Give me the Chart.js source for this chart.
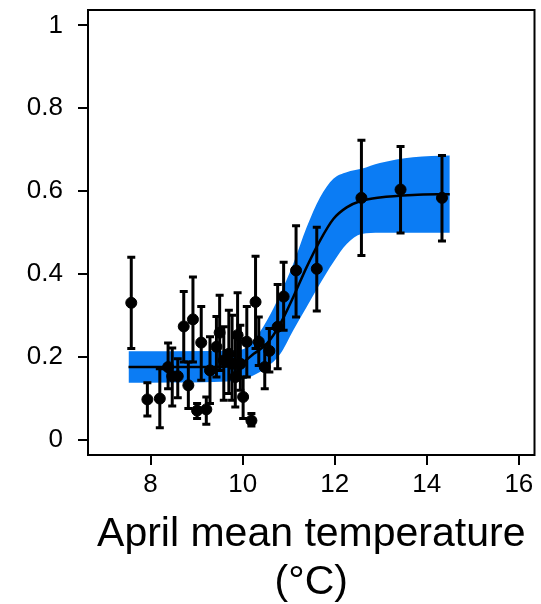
<!DOCTYPE html>
<html>
<head>
<meta charset="utf-8">
<title>April mean temperature</title>
<script src="https://cdn.jsdelivr.net/npm/chart.js@4.4.1/dist/chart.umd.min.js"></script>
<style>
  html, body { margin: 0; padding: 0; background: #fff; }
  #chart { display: block; }
</style>
</head>
<body>
<canvas id="chart" width="541" height="604"></canvas>
<script>
// observed points with their error bars
const temps   = [7.58, 7.93, 8.20, 8.38, 8.47, 8.59, 8.72, 8.82, 8.92, 9.01, 9.10, 9.21, 9.29, 9.43, 9.50, 9.59, 9.70, 9.77,
                 9.84, 9.89, 9.95, 10.01, 10.09, 10.19, 10.28, 10.35, 10.48, 10.58, 10.76, 10.89, 11.16, 11.61, 12.58, 13.43, 14.33];
const props   = [0.331, 0.098, 0.100, 0.176, 0.154, 0.154, 0.274, 0.132, 0.291, 0.071, 0.235, 0.074, 0.168, 0.225, 0.259, 0.192, 0.208, 0.184,
                 0.152, 0.253, 0.184, 0.104, 0.237, 0.047, 0.333, 0.237, 0.176, 0.215, 0.273, 0.346, 0.409, 0.413, 0.584, 0.604, 0.584];
const errLow  = [0.221, 0.058, 0.030, 0.124, 0.082, 0.102, 0.188, 0.076, 0.188, 0.052, 0.144, 0.038, 0.088, 0.152, 0.168, 0.096, 0.112, 0.096,
                 0.080, 0.152, 0.120, 0.052, 0.152, 0.034, 0.221, 0.180, 0.124, 0.164, 0.172, 0.265, 0.297, 0.311, 0.445, 0.499, 0.480];
const errHigh = [0.441, 0.138, 0.172, 0.234, 0.222, 0.196, 0.358, 0.188, 0.393, 0.088, 0.322, 0.104, 0.249, 0.298, 0.349, 0.273, 0.313, 0.301,
                 0.249, 0.355, 0.277, 0.152, 0.322, 0.064, 0.443, 0.297, 0.229, 0.269, 0.375, 0.429, 0.517, 0.513, 0.723, 0.708, 0.686];

// fitted curve and its band
const fitTemps = [7.52, 9.37, 9.95, 10.24, 10.53, 10.82, 11.10, 11.39, 11.68, 11.97, 12.26, 12.58, 12.98, 13.70, 14.50];
const fitMid   = [0.176, 0.176, 0.184, 0.208, 0.233, 0.281, 0.345, 0.417, 0.481, 0.533, 0.561, 0.577, 0.585, 0.591, 0.593];
const fitUpper = [0.214, 0.215, 0.217, 0.241, 0.289, 0.353, 0.425, 0.513, 0.585, 0.630, 0.646, 0.654, 0.668, 0.682, 0.686];
const fitLower = [0.138, 0.140, 0.144, 0.156, 0.176, 0.208, 0.265, 0.321, 0.377, 0.429, 0.473, 0.497, 0.500, 0.500, 0.500];

const xTicks = [8, 10, 12, 14, 16];
const yTicks = [0, 0.2, 0.4, 0.6, 0.8, 1];

const BLUE = '#0b7cf4';
const FONT = 'Liberation Sans, Arial, sans-serif';
const pts = (xs, ys) => xs.map((x, i) => ({ x: x, y: ys[i] }));

// error bars drawn under the points dataset
const errorBars = {
  id: 'errorBars',
  beforeDatasetDraw(chart, args) {
    if (args.index !== 0) return;
    const { ctx, scales: { x, y } } = chart;
    ctx.save();
    ctx.strokeStyle = '#000';
    ctx.lineWidth = 3;
    temps.forEach((t, i) => {
      const px = x.getPixelForValue(t);
      const lo = y.getPixelForValue(errLow[i]);
      const hi = y.getPixelForValue(errHigh[i]);
      ctx.beginPath();
      ctx.moveTo(px, lo); ctx.lineTo(px, hi);
      ctx.moveTo(px - 4, lo); ctx.lineTo(px + 4, lo);
      ctx.moveTo(px - 4, hi); ctx.lineTo(px + 4, hi);
      ctx.stroke();
    });
    ctx.restore();
  }
};

// closed frame round the plot
const frame = {
  id: 'frame',
  afterDraw(chart) {
    const { ctx, chartArea: a } = chart;
    ctx.save();
    ctx.strokeStyle = '#000';
    ctx.lineWidth = 2;
    ctx.strokeRect(a.left, a.top, a.right - a.left, a.bottom - a.top);
    ctx.restore();
  }
};

// no extra room for label overhang, the layout padding handles it
const noOverhang = s => {
  s.paddingTop = 0; s.paddingBottom = 0; s.paddingLeft = 0; s.paddingRight = 0;
};

new Chart(document.getElementById('chart'), {
  type: 'scatter',
  data: {
    datasets: [
      {
        data: pts(temps, props),
        backgroundColor: '#000',
        borderColor: '#000',
        pointRadius: 5.5,
        pointHoverRadius: 5.5
      },
      {
        data: pts(fitTemps, fitMid),
        showLine: true,
        borderColor: '#000',
        borderWidth: 2.5,
        pointRadius: 0,
        cubicInterpolationMode: 'monotone'
      },
      {
        data: pts(fitTemps, fitUpper),
        showLine: true,
        borderWidth: 0,
        borderColor: 'rgba(0,0,0,0)',
        backgroundColor: BLUE,
        pointRadius: 0,
        cubicInterpolationMode: 'monotone',
        fill: '+1'
      },
      {
        data: pts(fitTemps, fitLower),
        showLine: true,
        borderWidth: 0,
        borderColor: 'rgba(0,0,0,0)',
        pointRadius: 0,
        cubicInterpolationMode: 'monotone',
        fill: false
      }
    ]
  },
  options: {
    responsive: false,
    animation: false,
    layout: { padding: { top: 10, right: 6, left: 0, bottom: 0 } },
    plugins: { legend: { display: false }, tooltip: { enabled: false } },
    scales: {
      x: {
        type: 'linear',
        min: 6.64,
        max: 16.34,
        afterBuildTicks: s => { s.ticks = xTicks.map(v => ({ value: v })); },
        afterFit: s => { s.height = 149; noOverhang(s); },
        border: { display: false },
        grid: { drawOnChartArea: false, drawTicks: true, tickLength: 10, color: '#000', lineWidth: 2 },
        ticks: {
          color: '#000',
          padding: 4,
          font: { family: FONT, size: 26 }
        },
        title: {
          display: true,
          text: ['April mean temperature', '(°C)'],
          color: '#000',
          padding: { top: 0, bottom: -3 },
          font: { family: FONT, size: 41, lineHeight: 1.17 }
        }
      },
      y: {
        min: -0.036,
        max: 1.037,
        afterBuildTicks: s => { s.ticks = yTicks.map(v => ({ value: v })); },
        afterFit: s => { s.width = 88; noOverhang(s); },
        border: { display: false },
        grid: { drawOnChartArea: false, drawTicks: true, tickLength: 10, color: '#000', lineWidth: 2 },
        ticks: {
          color: '#000',
          padding: 15,
          font: { family: FONT, size: 26 },
          callback: v => String(v)
        }
      }
    }
  },
  plugins: [errorBars, frame]
});
</script>
</body>
</html>
